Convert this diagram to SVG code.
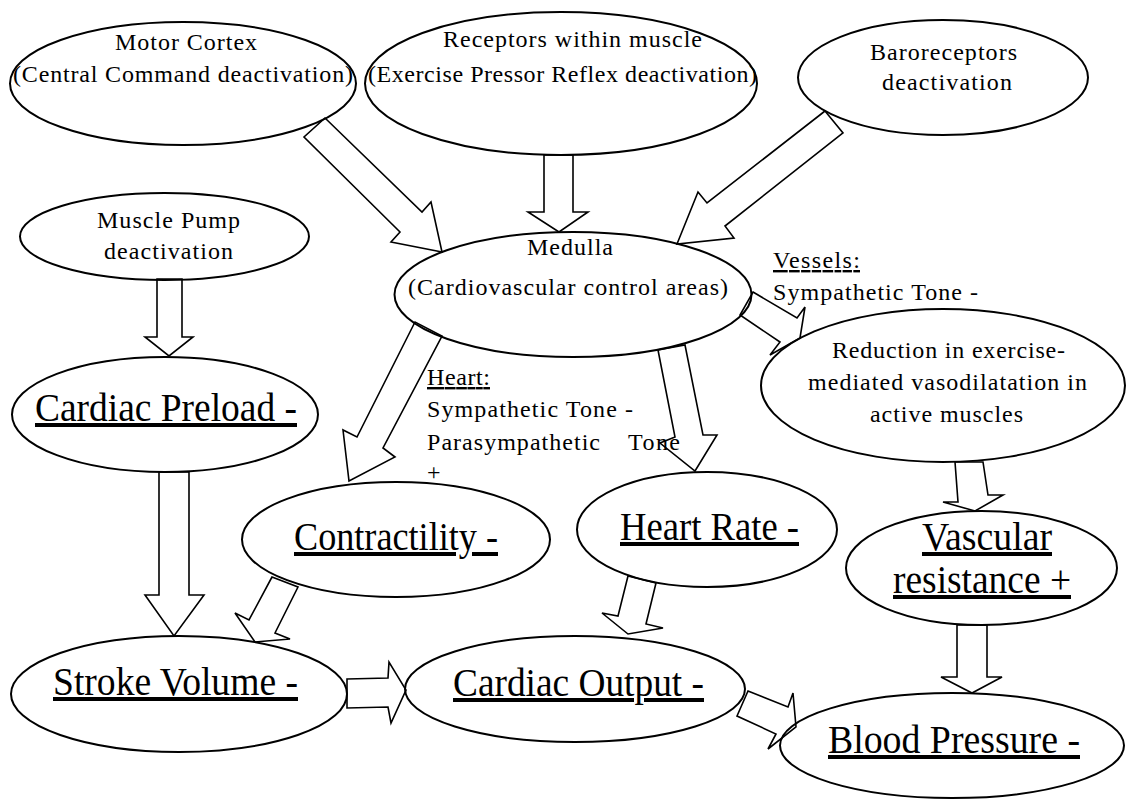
<svg xmlns="http://www.w3.org/2000/svg" width="1127" height="799" viewBox="0 0 1127 799">
<style>
.n{fill:none;stroke:#000;stroke-width:2}
.a{fill:#fff;stroke:#000;stroke-width:1.6;stroke-linejoin:miter}
.s{font-family:"Liberation Serif","Times New Roman",serif;font-size:24px;fill:#000}
.b{font-family:"Liberation Serif","Times New Roman",serif;font-size:40px;fill:#000;text-decoration:underline}
.u{text-decoration:underline}
</style>
<rect width="1127" height="799" fill="#fff"/>
<g id="connectors">
<polygon class="a" points="325,118 422,212 431,202 442,252 391,242 400,232 304,137"/>
<polygon class="a" points="544,155 544,212 528,212 559,232 588,212 573,212 573,155"/>
<polygon class="a" points="825,111 707,203 698,192 677,244 734,238 725,226 843,133"/>
<polygon class="a" points="157,279 157,337 145,337 169,356 193,337 182,337 182,279"/>
<polygon class="a" points="159,472 159,595 145,595 174,636 204,595 189,595 189,472"/>
<polygon class="a" points="415,322 357,437 343,430 349,481 395,457 383,448 442,336"/>
<polygon class="a" points="658,350 675,437 660,443 695,471 717,435 703,435 685,345"/>
<polygon class="a" points="753,292 797,318 805,307 800,338 770,355 780,342 740,315"/>
<polygon class="a" points="955,462 958,502 943,502 975,511 1003,495 988,495 983,462"/>
<polygon class="a" points="957,625 957,677 941,677 972,693 1002,677 987,677 987,625"/>
<polygon class="a" points="272,577 249,620 235,613 255,642 290,639 275,633 298,587"/>
<polygon class="a" points="628,576 618,616 602,613 628,634 663,628 646,624 656,583"/>
<polygon class="a" points="347,679 388,678 389,662 406,690 391,723 388,707 347,708"/>
<polygon class="a" points="748,691 788,707 793,693 796,727 768,749 776,734 737,716"/>
</g>
<g id="motor-cortex">
<ellipse class="n" cx="183" cy="83.5" rx="173" ry="61.5"/>
<text class="s" x="115" y="50" textLength="142">Motor Cortex</text>
<text class="s" x="13" y="82" textLength="340">(Central Command deactivation)</text>
</g>
<g id="receptors">
<ellipse class="n" cx="561" cy="83.5" rx="196" ry="71.5"/>
<text class="s" x="443" y="47" textLength="259">Receptors within muscle</text>
<text class="s" x="368" y="82" textLength="389">(Exercise Pressor Reflex deactivation)</text>
</g>
<g id="baroreceptors">
<ellipse class="n" cx="943" cy="77.5" rx="145" ry="57.5"/>
<text class="s" x="870" y="60" textLength="147">Baroreceptors</text>
<text class="s" x="882" y="90" textLength="130">deactivation</text>
</g>
<g id="muscle-pump">
<ellipse class="n" cx="164.5" cy="236.5" rx="144.5" ry="43.5"/>
<text class="s" x="97" y="228" textLength="143">Muscle Pump</text>
<text class="s" x="104" y="259" textLength="129">deactivation</text>
</g>
<g id="medulla">
<ellipse class="n" cx="573" cy="294.5" rx="178.5" ry="62.5"/>
<text class="s" x="527" y="255" textLength="86">Medulla</text>
<text class="s" x="408" y="295" textLength="320">(Cardiovascular control areas)</text>
</g>
<g id="cardiac-preload">
<ellipse class="n" cx="165" cy="414.5" rx="153" ry="57.5"/>
<text class="b" x="35" y="421" textLength="262" lengthAdjust="spacingAndGlyphs">Cardiac Preload -</text>
</g>
<g id="reduction">
<ellipse class="n" cx="943" cy="385.5" rx="182" ry="76.5"/>
<text class="s" x="832" y="358" textLength="233">Reduction in exercise-</text>
<text class="s" x="808" y="390" textLength="279">mediated vasodilatation in</text>
<text class="s" x="870" y="422" textLength="153">active muscles</text>
</g>
<g id="contractility">
<ellipse class="n" cx="396" cy="539.5" rx="154" ry="57.5"/>
<text class="b" x="294" y="550" textLength="204" lengthAdjust="spacingAndGlyphs">Contractility -</text>
</g>
<g id="heart-rate">
<ellipse class="n" cx="707" cy="529.5" rx="130" ry="57.5"/>
<text class="b" x="620" y="540" textLength="179" lengthAdjust="spacingAndGlyphs">Heart Rate -</text>
</g>
<g id="vascular-resistance">
<ellipse class="n" cx="981.5" cy="568" rx="135.5" ry="57"/>
<text class="b" x="922" y="550" textLength="130" lengthAdjust="spacingAndGlyphs">Vascular</text>
<text class="b" x="893" y="593" textLength="178" lengthAdjust="spacingAndGlyphs">resistance +</text>
</g>
<g id="stroke-volume">
<ellipse class="n" cx="179" cy="694" rx="168" ry="58"/>
<text class="b" x="53" y="695" textLength="245" lengthAdjust="spacingAndGlyphs">Stroke Volume -</text>
</g>
<g id="cardiac-output">
<ellipse class="n" cx="575" cy="689" rx="170" ry="53"/>
<text class="b" x="453" y="696" textLength="251" lengthAdjust="spacingAndGlyphs">Cardiac Output -</text>
</g>
<g id="blood-pressure">
<ellipse class="n" cx="952" cy="745.5" rx="172" ry="52.5"/>
<text class="b" x="828" y="753" textLength="252" lengthAdjust="spacingAndGlyphs">Blood Pressure -</text>
</g>
<g id="heart-label">
<text class="s u" x="427" y="385" textLength="63">Heart:</text>
<text class="s" x="427" y="417" textLength="206">Sympathetic Tone -</text>
<text class="s" x="427" y="450" textLength="173">Parasympathetic</text>
<text class="s" x="628" y="450" textLength="52">Tone</text>
<text class="s" x="427" y="480">+</text>
</g>
<g id="vessels-label">
<text class="s u" x="773" y="268" textLength="87">Vessels:</text>
<text class="s" x="773" y="300" textLength="205">Sympathetic Tone -</text>
</g>
</svg>
